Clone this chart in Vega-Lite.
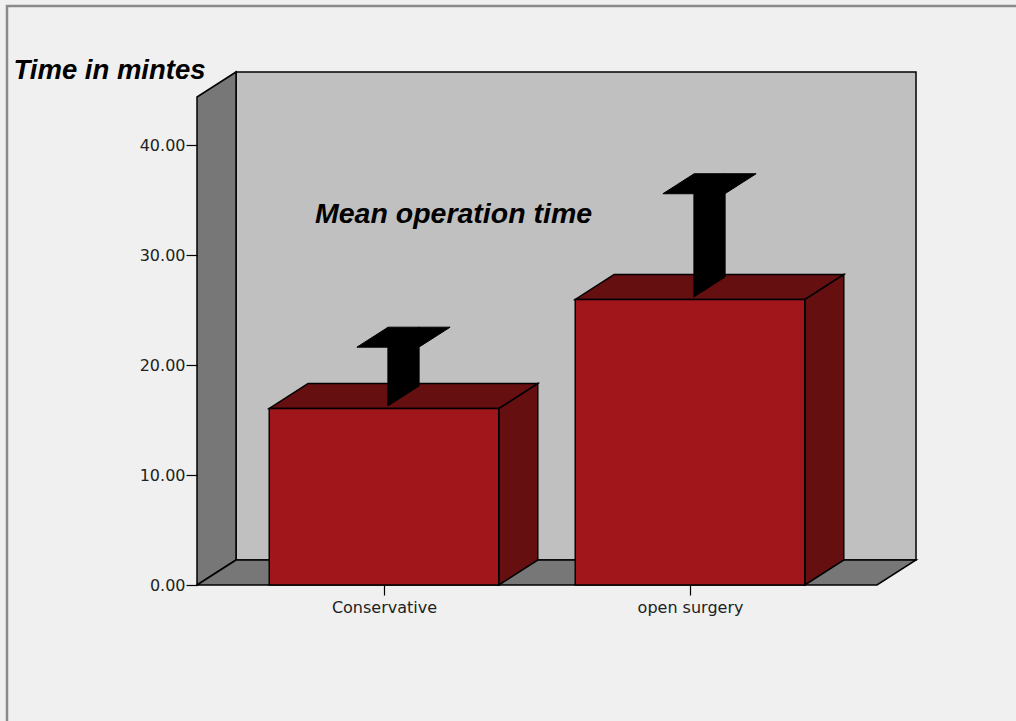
{
  "$schema": "https://vega.github.io/schema/vega-lite/v6.json",
  "autosize": "none",
  "width": 680,
  "height": 488,
  "padding": {"left": 197, "top": 97, "right": 139, "bottom": 136},
  "background": "#f0f0f0",
  "config": {
    "view": {"stroke": null},
    "axisY": {
      "domain": false,
      "grid": false,
      "ticks": true,
      "tickSize": 11,
      "tickColor": "#000",
      "tickWidth": 1.2,
      "labelPadding": 1,
      "labelFont": "DejaVu Sans",
      "labelFontSize": 16,
      "labelColor": "#222",
      "titleAngle": 0,
      "titleAlign": "left",
      "titleBaseline": "alphabetic",
      "titleX": -184,
      "titleY": -19,
      "titleFont": "Liberation Sans",
      "titleFontStyle": "italic",
      "titleFontWeight": "bold",
      "titleFontSize": 27.5,
      "titleColor": "#000"
    }
  },
  "datasets": {
    "optime": [
      {"group": "Conservative", "mean": 16.06, "upper": 21.41},
      {"group": "open surgery", "mean": 25.98, "upper": 35.37}
    ]
  },
  "data": {"name": "optime"},
  "resolve": {"scale": {"x": "independent"}, "axis": {"x": "independent"}},
  "layer": [
    {
      "mark": {"type": "rect", "fill": "transparent", "stroke": "#8a8a8a", "strokeWidth": 2.5, "clip": false},
      "transform": [{"aggregate": [{"op": "count", "as": "n"}]}],
      "encoding": {
        "x": {"datum": -0.232, "type": "quantitative", "scale": {"domain": [0.3889, 2.6111], "nice": false, "zero": false}, "axis": null},
        "x2": {"datum": 3.3},
        "y": {
          "datum": 52.68, "type": "quantitative",
          "scale": {"domain": [0, 44.4], "nice": false, "zero": false},
          "axis": {"values": [0, 10, 20, 30, 40], "format": ".2f", "title": "Time in mintes", "zindex": 1}
        },
        "y2": {"datum": -15}
      }
    },
    {
      "mark": {"type": "rect", "fill": "#c0c0c0", "stroke": "#000", "strokeWidth": 1.5},
      "transform": [{"aggregate": [{"op": "count", "as": "n"}]}],
      "encoding": {
        "x": {"datum": 0.5164, "type": "quantitative", "scale": {"domain": [0.3889, 2.6111], "nice": false, "zero": false}, "axis": null},
        "x2": {"datum": 2.7386},
        "y": {"datum": 2.275, "type": "quantitative"},
        "y2": {"datum": 46.675}
      }
    },
    {
      "mark": {"type": "area", "orient": "vertical", "fill": "#777777", "stroke": "#000", "strokeWidth": 1.5, "opacity": 1, "fillOpacity": 1},
      "transform": [
        {"aggregate": [{"op": "count", "as": "n"}]},
        {"calculate": "0", "as": "front"},
        {"calculate": "1", "as": "back"},
        {"fold": ["front", "back"], "as": ["face", "t"]},
        {"calculate": "0.3889 + datum.t * 0.1275", "as": "wx"},
        {"calculate": "datum.t * 2.275", "as": "wy"},
        {"calculate": "44.4 + datum.t * 2.275", "as": "wy2"}
      ],
      "encoding": {
        "x": {"field": "wx", "type": "quantitative", "scale": {"domain": [0.3889, 2.6111], "nice": false, "zero": false}, "axis": null},
        "y": {"field": "wy", "type": "quantitative", "stack": null},
        "y2": {"field": "wy2"}
      }
    },
    {
      "mark": {"type": "area", "orient": "horizontal", "fill": "#777777", "stroke": "#000", "strokeWidth": 1.5, "opacity": 1, "fillOpacity": 1},
      "transform": [
        {"aggregate": [{"op": "count", "as": "n"}]},
        {"calculate": "0", "as": "front"},
        {"calculate": "1", "as": "back"},
        {"fold": ["front", "back"], "as": ["face", "t"]},
        {"calculate": "datum.t * 2.275", "as": "fy"},
        {"calculate": "0.3889 + datum.t * 0.1275", "as": "fx"},
        {"calculate": "2.6111 + datum.t * 0.1275", "as": "fx2"}
      ],
      "encoding": {
        "y": {"field": "fy", "type": "quantitative"},
        "x": {"field": "fx", "type": "quantitative", "stack": null, "scale": {"domain": [0.3889, 2.6111], "nice": false, "zero": false}, "axis": null},
        "x2": {"field": "fx2"}
      }
    },
    {
      "mark": {"type": "area", "orient": "vertical", "fill": "#650f11", "stroke": "#000", "strokeWidth": 1.5, "opacity": 1, "fillOpacity": 1},
      "transform": [
        {"window": [{"op": "row_number", "as": "i"}]},
        {"calculate": "0", "as": "front"},
        {"calculate": "1", "as": "back"},
        {"fold": ["front", "back"], "as": ["face", "t"]},
        {"calculate": "datum.i + 0.375 + datum.t * 0.1275", "as": "sx"},
        {"calculate": "datum.t * 2.275", "as": "sy"},
        {"calculate": "datum.mean + datum.t * 2.275", "as": "sy2"}
      ],
      "encoding": {
        "x": {"field": "sx", "type": "quantitative", "scale": {"domain": [0.3889, 2.6111], "nice": false, "zero": false}, "axis": null},
        "y": {"field": "sy", "type": "quantitative", "stack": null},
        "y2": {"field": "sy2"},
        "detail": {"field": "group", "type": "nominal"}
      }
    },
    {
      "mark": {"type": "area", "orient": "horizontal", "fill": "#650f11", "stroke": "#000", "strokeWidth": 1.5, "opacity": 1, "fillOpacity": 1},
      "transform": [
        {"window": [{"op": "row_number", "as": "i"}]},
        {"calculate": "0", "as": "front"},
        {"calculate": "1", "as": "back"},
        {"fold": ["front", "back"], "as": ["face", "t"]},
        {"calculate": "datum.mean + datum.t * 2.275", "as": "ty"},
        {"calculate": "datum.i - 0.375 + datum.t * 0.1275", "as": "tx"},
        {"calculate": "datum.i + 0.375 + datum.t * 0.1275", "as": "tx2"}
      ],
      "encoding": {
        "y": {"field": "ty", "type": "quantitative"},
        "x": {"field": "tx", "type": "quantitative", "stack": null, "scale": {"domain": [0.3889, 2.6111], "nice": false, "zero": false}, "axis": null},
        "x2": {"field": "tx2"},
        "detail": {"field": "group", "type": "nominal"}
      }
    },
    {
      "mark": {"type": "rect", "fill": "#a1161a", "stroke": "#000", "strokeWidth": 1.5},
      "transform": [
        {"window": [{"op": "row_number", "as": "i"}]},
        {"calculate": "datum.i - 0.375", "as": "bx"},
        {"calculate": "datum.i + 0.375", "as": "bx2"}
      ],
      "encoding": {
        "x": {"field": "bx", "type": "quantitative", "scale": {"domain": [0.3889, 2.6111], "nice": false, "zero": false}, "axis": null},
        "x2": {"field": "bx2"},
        "y": {"field": "mean", "type": "quantitative"},
        "y2": {"datum": 0}
      }
    },
    {
      "mark": {"type": "area", "orient": "vertical", "fill": "#000", "stroke": "#000", "strokeWidth": 1, "opacity": 1, "fillOpacity": 1},
      "transform": [
        {"window": [{"op": "row_number", "as": "i"}]},
        {"calculate": "0", "as": "front"},
        {"calculate": "1", "as": "back"},
        {"fold": ["front", "back"], "as": ["face", "t"]},
        {"calculate": "0.1 + datum.t * 0.8", "as": "d"},
        {"calculate": "datum.i + datum.d * 0.1275", "as": "ex"},
        {"calculate": "datum.mean + datum.d * 2.275", "as": "ey"},
        {"calculate": "datum.upper + datum.d * 2.275", "as": "ey2"}
      ],
      "encoding": {
        "x": {"field": "ex", "type": "quantitative", "scale": {"domain": [0.3889, 2.6111], "nice": false, "zero": false}, "axis": null},
        "y": {"field": "ey", "type": "quantitative", "stack": null},
        "y2": {"field": "ey2"},
        "detail": {"field": "group", "type": "nominal"}
      }
    },
    {
      "mark": {"type": "area", "orient": "horizontal", "fill": "#000", "stroke": "#000", "strokeWidth": 1, "opacity": 1, "fillOpacity": 1},
      "transform": [
        {"window": [{"op": "row_number", "as": "i"}]},
        {"calculate": "0", "as": "front"},
        {"calculate": "1", "as": "back"},
        {"fold": ["front", "back"], "as": ["face", "t"]},
        {"calculate": "0.1 + datum.t * 0.8", "as": "d"},
        {"calculate": "datum.upper + datum.d * 2.275", "as": "cy"},
        {"calculate": "datum.i - 0.1013 + datum.d * 0.1275", "as": "cx"},
        {"calculate": "datum.i + 0.1013 + datum.d * 0.1275", "as": "cx2"}
      ],
      "encoding": {
        "y": {"field": "cy", "type": "quantitative"},
        "x": {"field": "cx", "type": "quantitative", "stack": null, "scale": {"domain": [0.3889, 2.6111], "nice": false, "zero": false}, "axis": null},
        "x2": {"field": "cx2"},
        "detail": {"field": "group", "type": "nominal"}
      }
    },
    {
      "mark": {"type": "text", "text": "Mean operation time", "align": "left", "baseline": "alphabetic", "font": "Liberation Sans", "fontStyle": "italic", "fontWeight": "bold", "fontSize": 28.5, "color": "#000"},
      "transform": [{"aggregate": [{"op": "count", "as": "n"}]}],
      "encoding": {
        "x": {"datum": 0.7745, "type": "quantitative", "scale": {"domain": [0.3889, 2.6111], "nice": false, "zero": false}, "axis": null},
        "y": {"datum": 32.94, "type": "quantitative"}
      }
    },
    {
      "mark": {"type": "tick", "opacity": 0},
      "encoding": {
        "x": {
          "field": "group", "type": "nominal",
          "scale": {"type": "point", "padding": 0.611},
          "axis": {
            "title": null,
            "domain": false,
            "grid": false,
            "labelAngle": 0,
            "tickSize": 10,
            "tickColor": "#000",
            "tickWidth": 1.2,
            "labelPadding": 4,
            "labelFont": "DejaVu Sans",
            "labelFontSize": 16,
            "labelColor": "#222"
          }
        }
      }
    }
  ]
}
